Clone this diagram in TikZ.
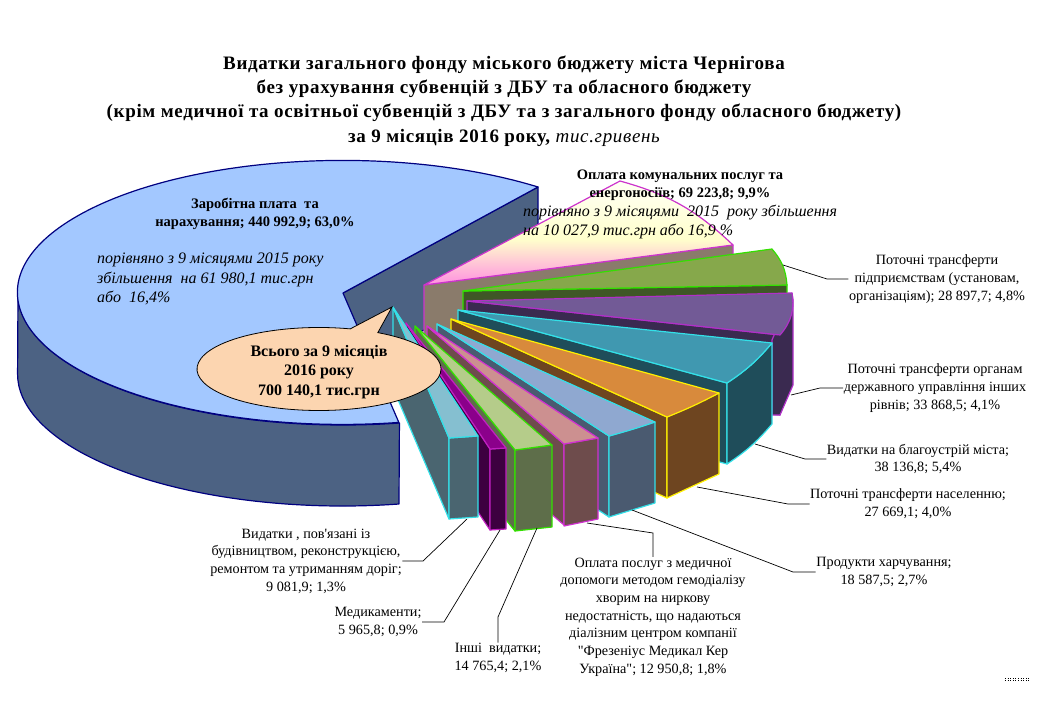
\documentclass[tikz,border=0pt]{standalone}
\usepackage{fontspec}
\setmainfont[Ligatures=TeXOff]{Liberation Serif}
\usetikzlibrary{shapes.callouts}
\definecolor{bigtop}{HTML}{A3C8FF}
\definecolor{bigside}{HTML}{4C6283}
\definecolor{bigrim}{HTML}{000080}
\definecolor{pinkside}{HTML}{8A7B6B}
\definecolor{pinkrim}{HTML}{CC33CC}
\definecolor{pinkhigh}{HTML}{FFFFF5}
\definecolor{pinkmid}{HTML}{FFFFCC}
\definecolor{pinklow}{HTML}{FF90E0}
\definecolor{greentop}{HTML}{86A84B}
\definecolor{greenside}{HTML}{3F5726}
\definecolor{greenrim}{HTML}{33E000}
\definecolor{violettop}{HTML}{725A96}
\definecolor{violetside}{HTML}{3A2A50}
\definecolor{violetrim}{HTML}{B030C8}
\definecolor{tealtop}{HTML}{4098B0}
\definecolor{tealside}{HTML}{1F4D5A}
\definecolor{cyanrim}{HTML}{33E0E8}
\definecolor{orangetop}{HTML}{D88A3C}
\definecolor{orangeside}{HTML}{6E4520}
\definecolor{orangerim}{HTML}{FFF000}
\definecolor{lilactop}{HTML}{8FA8D0}
\definecolor{lilacside}{HTML}{4A5A70}
\definecolor{rosetop}{HTML}{CC9090}
\definecolor{roseside}{HTML}{6E4C4C}
\definecolor{roserim}{HTML}{D030D0}
\definecolor{limetop}{HTML}{B5CC8A}
\definecolor{limeside}{HTML}{5E6E4A}
\definecolor{plumtop}{HTML}{8B008B}
\definecolor{plumside}{HTML}{3D0040}
\definecolor{plumrim}{HTML}{C020C0}
\definecolor{roadtop}{HTML}{85BFD0}
\definecolor{roadside}{HTML}{4A6570}
\definecolor{bubble}{HTML}{FCD5B0}
\pgfdeclareverticalshading{energyface}{100bp}{color(0bp)=(pinklow); color(25bp)=(pinklow); color(47bp)=(pinkmid); color(75bp)=(pinkhigh); color(100bp)=(pinkhigh)}
\tikzset{
	rim/.style={line width=1.2pt, line join=round},
	leader/.style={line width=0.7pt, black},
	lbl/.style={inner sep=0.5pt, align=center, font=\fontsize{14.2}{17.7}\selectfont},
	headlbl/.style={inner sep=0pt, align=center, font=\fontsize{19}{24.3}\bfseries\selectfont\addfontfeatures{LetterSpace=3.5}},
	boldlbl/.style={inner sep=0pt, align=center, font=\fontsize{14.5}{17.7}\bfseries\selectfont},
	totallbl/.style={inner sep=0pt, align=center, font=\fontsize{16}{19.5}\bfseries\selectfont},
	notelbl/.style={inner sep=0pt, align=left, font=\fontsize{16}{19.8}\itshape\selectfont},
}
\begin{document}
\begin{tikzpicture}[x=1pt,y=1pt]
	\useasboundingbox (0,0) rectangle (1043,-703);

	\node[headlbl] at (504,-101)(head){Видатки загального фонду міського бюджету міста Чернігова\\
		без урахування субвенцій з ДБУ та обласного бюджету\\
		(крім медичної та освітньої субвенцій з ДБУ та з загального фонду обласного бюджету)\\
		за 9 місяців 2016 року, {\mdseries\itshape тис.гривень}};

	\filldraw[rim, draw=bigrim, fill=bigside] (343,-293)--(538,-187)--(538,-268)--(343,-374)--cycle;
	\filldraw[rim, draw=bigrim, fill=bigside] (18,-293) arc (180:280:325 and 132)--(399,-504) arc (280:180:325 and 132)--cycle;
	\filldraw[rim, draw=bigrim, fill=bigtop] (343,-293)--(538,-187) arc (53:280:325 and 132)--cycle;

	\filldraw[rim, draw=pinkrim, fill=pinkside] (424,-285)--(733,-245)--(733,-326)--(424,-366)--cycle;
	\shade[shading=energyface] (424,-285)--(620,-181) to[bend left=14] (733,-245)--cycle;
	\draw[rim, draw=pinkrim] (424,-285)--(620,-181) to[bend left=14] (733,-245)--cycle;

	\filldraw[rim, draw=greenrim, fill=greenside] (463,-291)--(787,-285)--(787,-366)--(463,-372)--cycle;
	\filldraw[rim, draw=greenrim, fill=greentop] (463,-291)--(772,-249) to[bend left=18] (787,-285)--cycle;

	\filldraw[rim, draw=violetrim, fill=violetside] (467,-301)--(780,-335)--(780,-415)--(467,-382)--cycle;
	\filldraw[rim, draw=violetrim, fill=violetside] (792,-293)--(793,-300)--(793,-385)--(780,-415)--(772,-415)--(772,-340)--cycle;
	\filldraw[rim, draw=violetrim, fill=violettop] (467,-301)--(792,-293) to[bend left=25] (780,-335)--cycle;

	\filldraw[rim, draw=cyanrim, fill=tealside] (458,-310)--(727,-383)--(727,-464)--(458,-391)--cycle;
	\filldraw[rim, draw=cyanrim, fill=tealside] (772,-343) to[bend left=8] (727,-383)--(727,-464) to[bend right=8] (772,-424)--cycle;
	\filldraw[rim, draw=cyanrim, fill=tealtop] (458,-310)--(772,-343) to[bend left=8] (727,-383)--cycle;

	\filldraw[rim, draw=orangerim, fill=orangeside] (451,-319)--(667,-417)--(667,-498)--(451,-400)--cycle;
	\filldraw[rim, draw=orangerim, fill=orangeside] (719,-393)--(667,-417)--(667,-498)--(719,-474)--cycle;
	\filldraw[rim, draw=orangerim, fill=orangetop] (451,-319)--(719,-393) to[bend left=3] (667,-417)--cycle;

	\filldraw[rim, draw=cyanrim, fill=lilacside] (437,-324)--(609,-436)--(609,-517)--(437,-405)--cycle;
	\filldraw[rim, draw=cyanrim, fill=lilacside] (655,-422)--(609,-436)--(609,-517)--(655,-503)--cycle;
	\filldraw[rim, draw=cyanrim, fill=lilactop] (437,-324)--(655,-422) to[bend left=2] (609,-436)--cycle;

	\filldraw[rim, draw=roserim, fill=roseside] (427,-326)--(564,-444)--(564,-525)--(427,-407)--cycle;
	\filldraw[rim, draw=roserim, fill=roseside] (598,-438)--(564,-444)--(564,-526)--(598,-519)--cycle;
	\filldraw[rim, draw=roserim, fill=rosetop] (427,-326)--(598,-438)--(564,-444)--cycle;

	\filldraw[rim, draw=greenrim, fill=limeside] (415,-326)--(515,-450)--(515,-531)--(415,-407)--cycle;
	\filldraw[rim, draw=greenrim, fill=limeside] (552,-445)--(515,-450)--(515,-531)--(552,-527)--cycle;
	\filldraw[rim, draw=greenrim, fill=limetop] (415,-326)--(552,-445)--(515,-450)--cycle;

	\filldraw[rim, draw=plumrim, fill=plumside] (406,-323)--(490,-449)--(490,-530)--(406,-404)--cycle;
	\filldraw[rim, draw=plumrim, fill=plumside] (506,-448)--(490,-449)--(490,-530)--(506,-529)--cycle;
	\filldraw[rim, draw=plumrim, fill=plumtop] (406,-323)--(506,-448)--(490,-449)--cycle;

	\filldraw[rim, draw=cyanrim, fill=roadside] (393,-307)--(449,-438)--(449,-519)--(393,-388)--cycle;
	\filldraw[rim, draw=cyanrim, fill=roadside] (478,-436)--(449,-438)--(449,-519)--(478,-517)--cycle;
	\filldraw[rim, draw=cyanrim, fill=roadtop] (393,-307)--(478,-436)--(449,-438)--cycle;

	\node[ellipse callout, draw=black, fill=bubble, line width=0.8pt, inner sep=0pt, minimum width=244pt, minimum height=83pt,
		callout absolute pointer={(392,-307)}, callout pointer arc=14] at (319,-369)(total){};
	\node[totallbl] at (319,-372)(totaltext){Всього за 9 місяців\\2016 року\\700 140,1 тис.грн};

	\node[boldlbl] at (255,-214)(wages){Заробітна плата~ та\\нарахування; 440 992,9; 63,0\%};
	\node[notelbl, anchor=west] at (97,-279)(wagesnote){порівняно з 9 місяцями 2015 року\\збільшення~ на 61 980,1 тис.грн\\або~ 16,4\%};
	\node[boldlbl] at (680,-185)(energy){Оплата комунальних послуг та\\енергоносіїв; 69 223,8; 9,9\%};
	\node[notelbl, anchor=west] at (523,-222)(energynote){порівняно з 9 місяцями~ 2015~ року збільшення\\на 10 027,9 тис.грн або 16,9 \%};

	\node[lbl] at (937,-279)(firms){Поточні трансферти\\підприємствам (установам,\\організаціям); 28 897,7; 4,8\%};
	\node[lbl] at (935,-388)(organs){Поточні трансферти органам\\державного управління інших\\рівнів; 33 868,5; 4,1\%};
	\node[lbl] at (918,-459)(city){Видатки на благоустрій міста;\\38 136,8; 5,4\%};
	\node[lbl] at (908,-504)(people){Поточні трансферти населенню;\\27 669,1; 4,0\%};
	\node[lbl] at (884,-572)(food){Продукти харчування;\\18 587,5; 2,7\%};
	\node[lbl] at (653,-617)(dialysis){Оплата послуг з медичної\\допомоги методом гемодіалізу\\хворим на ниркову\\недостатність, що надаються\\діалізним центром компанії\\"Фрезеніус Медикал Кер\\Україна"; 12 950,8; 1,8\%};
	\node[lbl] at (498,-658)(other){Інші~ видатки;\\14 765,4; 2,1\%};
	\node[lbl] at (378,-622)(drugs){Медикаменти;\\5 965,8; 0,9\%};
	\node[lbl] at (306,-561)(roads){Видатки , пов'язані із\\будівництвом, реконструкцією,\\ремонтом та утриманням доріг;\\9 081,9; 1,3\%};

	\coordinate (firmsend) at (783,-265);
	\coordinate (organsend) at (791,-395);
	\coordinate (cityend) at (755,-444);
	\coordinate (peopleend) at (697,-487);
	\coordinate (foodend) at (632,-510);
	\coordinate (dialysisend) at (587,-523);
	\coordinate (otherend) at (537,-528);
	\coordinate (drugsend) at (500,-530);
	\coordinate (roadsend) at (467,-519);
	\draw[leader] (firmsend)--(827,-279)--(firms.west);
	\draw[leader] (organsend)--(820,-388)--(organs.west);
	\draw[leader] (cityend)--(805,-459)--(city.west);
	\draw[leader] (peopleend)--(788,-504)--(people.west);
	\draw[leader] (foodend)--(793,-572)--(food.west);
	\draw[leader] (dialysisend)--(653,-533)--(dialysis.north);
	\draw[leader] (otherend)--(498,-617)--(other.north);
	\draw[leader] (drugsend)--(444,-622)--(drugs.east);
	\draw[leader] (roadsend)--(423,-561)--(roads.east);

	\draw[dotted, line width=0.6pt] (1005,-678.5)--(1030,-678.5);
	\draw[dotted, line width=0.6pt] (1005,-680.5)--(1030,-680.5);
\end{tikzpicture}
\end{document}
